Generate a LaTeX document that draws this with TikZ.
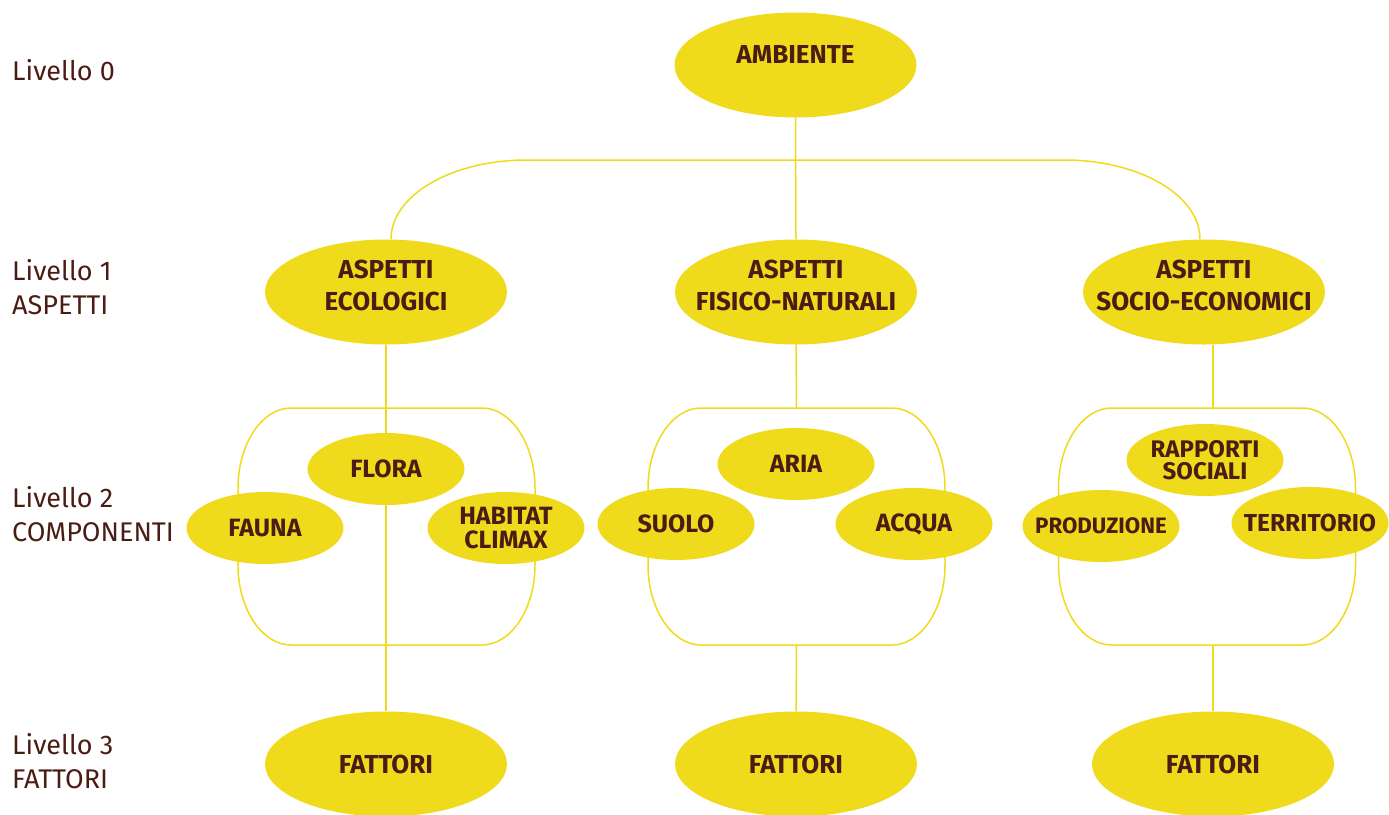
\documentclass[tikz,border=0pt]{standalone}
\usepackage{fontspec}
\setmainfont{Fira Sans}
\usetikzlibrary{shapes.geometric,backgrounds}
\definecolor{gial}{HTML}{EFDB1C}
\definecolor{marr}{HTML}{4A1D14}
\newcommand{\compbox}[2]{%
  \draw[conn] (#1-95.5,408) -- (#1+95.5,408)
    .. controls (#1+124.5,408) and (#1+148.5,444) .. (#1+148.5,488)
    -- (#1+148.5,565)
    .. controls (#1+148.5,609) and (#1+124.5,645) .. (#1+95.5,645)
    -- (#1-95.5,645)
    .. controls (#1-124.5,645) and (#1-148.5,609) .. (#1-148.5,565)
    -- (#1-148.5,488)
    .. controls (#1-148.5,444) and (#1-124.5,408) .. cycle;
  \coordinate (#2top) at (#1,408);
  \coordinate (#2bot) at (#1,645);}
\begin{document}
\begin{tikzpicture}[x=1pt,y=-1pt,
  big/.style={ellipse, fill=gial, minimum width=242pt, minimum height=105pt,
    inner sep=-60pt, text=marr, font=\bfseries\fontsize{26}{32}\selectfont, align=center},
  small/.style={ellipse, fill=gial, minimum width=157pt, minimum height=72pt,
    inner sep=-40pt, text=marr, font=\bfseries\fontsize{25}{24}\selectfont, align=center},
  lev/.style={anchor=north west, text=marr, font=\fontsize{27}{34}\selectfont,
    align=left, inner sep=0pt},
  two/.style={text height=50pt, text depth=13pt},
  conn/.style={draw=gial, line width=1.5pt}]
\useasboundingbox (0,0) rectangle (1389,814);

% level labels
\node[lev] (l0) at (12,59) {Livello 0};
\node[lev] (l1) at (12,259) {Livello 1\\ASPETTI};
\node[lev] (l2) at (12,486) {Livello 2\\COMPONENTI};
\node[lev] (l3) at (12,733) {Livello 3\\FATTORI};

% level 0 and 1
\node[big, text height=18pt, text depth=22pt] (amb) at (795.5,65) {AMBIENTE};
\node[big, two] (eco) at (386,292) {ASPETTI\\ECOLOGICI};
\node[big, two] (fis) at (796,292) {ASPETTI\\FISICO-NATURALI};
\node[big, two] (soc) at (1204,292) {ASPETTI\\SOCIO-ECONOMICI};

% level 2
\node[small] (flo) at (386,469) {FLORA};
\node[small] (fau) at (265,528) {FAUNA};
\node[small] (hab) at (506,528) {HABITAT\\CLIMAX};
\node[small] (ari) at (796,464) {ARIA};
\node[small] (suo) at (676,524) {SUOLO};
\node[small] (acq) at (914,524) {ACQUA};
\node[small, font=\bfseries\fontsize{24}{22}\selectfont] (rap) at (1205,460) {RAPPORTI\\SOCIALI};
\node[small, font=\bfseries\fontsize{22.3}{24}\selectfont] (pro) at (1101,526) {PRODUZIONE};
\node[small, font=\bfseries\fontsize{24.5}{24}\selectfont] (ter) at (1310,523) {TERRITORIO};

% level 3
\node[big] (fat1) at (386,764) {FATTORI};
\node[big] (fat2) at (796,764) {FATTORI};
\node[big] (fat3) at (1213,764) {FATTORI};

\begin{pgfonlayer}{background}
  \compbox{386.5}{bA}
  \compbox{796.5}{bB}
  \compbox{1207}{bC}
  \draw[conn] (amb.south) -- (fis.north);
  \coordinate (busL) at (527,160);
  \coordinate (busR) at (1064,160);
  \draw[conn] ([xshift=5pt]eco.north) .. controls (391,195) and (452,160) .. (busL)
    -- (busR) .. controls (1139,160) and (1200,195) .. ([xshift=-4pt]soc.north);
  \draw[conn] (eco.south) -- (fat1.north);
  \draw[conn] (fis.south) -- (bBtop);
  \draw[conn] (bBbot) -- (fat2.north);
  \draw[conn] (soc.south -| fat3.north) -- (bCtop -| fat3.north);
  \draw[conn] (bCbot -| fat3.north) -- (fat3.north);
\end{pgfonlayer}
\end{tikzpicture}
\end{document}
